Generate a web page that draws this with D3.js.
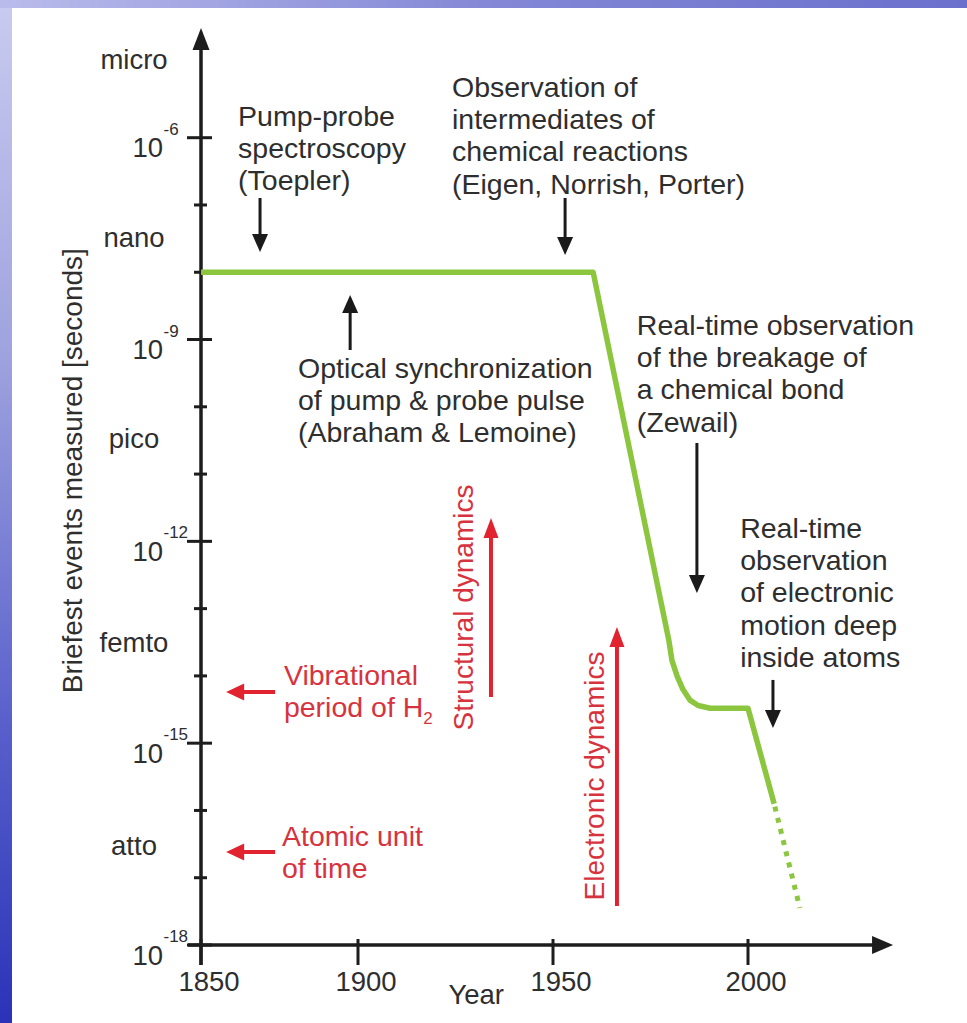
<!DOCTYPE html>
<html><head><meta charset="utf-8">
<script src="https://cdn.jsdelivr.net/npm/d3@7"></script>
<style>
body{margin:0;background:#fff}
svg{display:block}
text{font-family:"Liberation Sans",Arial,Helvetica,sans-serif}
</style>
</head><body>
<svg id="c" width="967" height="1023"></svg>
<script>
// ---------------- data ----------------
const yearTicks = [1850, 1900, 1950, 2000];
const expTicks = [-6, -7, -8, -9, -10, -11, -12, -13, -14, -15, -16, -17, -18];
const majorExps = [-6, -9, -12, -15, -18];
const prefixLabels = ["micro", "nano", "pico", "femto", "atto"];
const prefixExps = [-4.87, -7.52, -10.51, -13.54, -16.56];

// briefest events measured (solid part): year, log10(seconds)
const lineYears = [1850, 1960.3, 1979.7, 1980.5, 1981.8, 1983.3, 1985.1, 1987.2, 1990.3, 2000, 2006.7];
const lineExps  = [-8,   -8,     -13.47, -13.77, -14.00, -14.20, -14.36, -14.44, -14.48, -14.48, -15.90];
// projected (dotted) part
const dotYears = [2006.7, 2013.3];
const dotExps  = [-15.90, -17.45];

// annotations (anchors in data coordinates: year, log10 seconds)
const noteTexts = [
  ["Pump-probe", "spectroscopy", "(Toepler)"],
  ["Observation of", "intermediates of", "chemical reactions", "(Eigen, Norrish, Porter)"],
  ["Optical synchronization", "of pump & probe pulse", "(Abraham & Lemoine)"],
  ["Real-time observation", "of the breakage of", "a chemical bond", "(Zewail)"],
  ["Real-time", "observation", "of electronic", "motion deep", "inside atoms"]
];
const noteYears = [1861.8, 1924.1, 1880.9, 1971.5, 1998.0];
const noteExps  = [-5.826, -5.395, -9.572, -8.933, -11.950];
// black arrows: year, from exp, to exp (tip)
const arrowYears = [1868.8, 1953.1, 1897.5, 1986.9, 2006.4];
const arrowFrom  = [-6.896, -6.896, -9.156, -10.538, -14.06];
const arrowTo    = [-7.699, -7.744, -8.338, -12.768, -14.773];

// red side notes
const redNoteYears = [1876.4, 1875.8];
const redNoteExps  = [-14.135, -16.528];
const redArrowFromYears = [1873.6, 1873.6];
const redArrowToYears   = [1858.0, 1858.0];
const redArrowExps      = [-14.239, -16.617];

// red vertical labels / arrows
const dynLabels = ["Structural dynamics", "Electronic dynamics"];
const dynTextYears = [1929.4, 1963.2];
const dynTextExps  = [-12.983, -15.488];
const dynArrowYears = [1934.1, 1966.4];
const dynArrowFrom  = [-14.314, -17.42];
const dynArrowTo    = [-11.653, -13.273];

// ---------------- setup ----------------
const W = 967, H = 1023;
const svg = d3.select("#c");
const defs = svg.append("defs");
const gl = defs.append("linearGradient").attr("id","gLeft").attr("x1",0).attr("y1",0).attr("x2",0).attr("y2",1);
gl.append("stop").attr("offset","0%").attr("stop-color","#c9cbef");
gl.append("stop").attr("offset","35%").attr("stop-color","#9ea2de");
gl.append("stop").attr("offset","70%").attr("stop-color","#5a61cc");
gl.append("stop").attr("offset","100%").attr("stop-color","#2a33b8");
const gt = defs.append("linearGradient").attr("id","gTop").attr("x1",0).attr("y1",0).attr("x2",1).attr("y2",0);
gt.append("stop").attr("offset","0%").attr("stop-color","#b9bceb");
gt.append("stop").attr("offset","50%").attr("stop-color","#8488d6");
gt.append("stop").attr("offset","100%").attr("stop-color","#6a70cc");

svg.append("rect").attr("width",W).attr("height",H).attr("fill","url(#gLeft)");
svg.append("rect").attr("width",W).attr("height",8).attr("fill","url(#gTop)");
svg.append("rect").attr("x",12).attr("y",8).attr("width",W-12).attr("height",H-8).attr("fill","#ffffff");

// scales (the original figure's time axis is not evenly spaced)
const x = d3.scaleLinear().domain(yearTicks).range([201, 358, 553, 748]);
const y = d3.scaleLog().domain([1e-18, 1e-6]).range([945, 137.7]);
const Y = e => y(Math.pow(10, e));

const AX = "#1d1d1d", TXT = "#2e2e2e", RED = "#e0232f", REDT = "#d7333e", GREEN = "#8cc63e";
const FS = 28.5, FSR = 28;

function arrow(g, x1, y1, x2, y2, color, sw, hl, hw) {
  const a = Math.atan2(y2 - y1, x2 - x1);
  const bx = x2 - Math.cos(a) * hl, by = y2 - Math.sin(a) * hl;
  g.append("line").attr("x1",x1).attr("y1",y1).attr("x2",bx + Math.cos(a)*1).attr("y2",by + Math.sin(a)*1)
    .attr("stroke",color).attr("stroke-width",sw);
  const px = -Math.sin(a), py = Math.cos(a);
  g.append("path").attr("d", `M${x2},${y2}L${bx + px*hw},${by + py*hw}L${bx - px*hw},${by - py*hw}Z`).attr("fill",color);
}

const g = svg.append("g");

// ---------------- axes ----------------
const x0 = x(1850), yBase = Y(-18);
const yTop = Y(-4.369), xEnd = x(2037.2);
arrow(g, x0, 965, x0, yTop, AX, 3.5, 22, 8.5);
arrow(g, x0 - 13, yBase, xEnd, yBase, AX, 3.5, 21, 9);

// y ticks
g.selectAll(".yt").data(expTicks).join("line")
  .attr("x1", d => majorExps.includes(d) ? x0 - 14 : x0 - 7)
  .attr("x2", d => majorExps.includes(d) ? x0 + 11 : x0 + 6)
  .attr("y1", d => Y(d)).attr("y2", d => Y(d))
  .attr("stroke", AX).attr("stroke-width", 3);

// y major labels 10^n
const yl = g.selectAll(".yl").data(majorExps).join("g");
yl.append("text").attr("x", x0 - 38).attr("y", d => Y(d) + 19.5)
  .attr("text-anchor","end").attr("font-size",27.5).attr("fill",TXT).text("10");
yl.append("text").attr("x", x0 - 37.5).attr("y", d => Y(d) - 3)
  .attr("font-size",17).attr("fill",TXT).text(d => String(d));

// prefix labels
g.selectAll(".pl").data(prefixLabels).join("text")
  .attr("x", x0 - 67).attr("y", (d,i) => Y(prefixExps[i]) + 7)
  .attr("text-anchor","middle").attr("font-size",27.5).attr("fill",TXT).text(d => d);

// x ticks
g.selectAll(".xt").data(yearTicks).join("line")
  .attr("x1", d => x(d)).attr("x2", d => x(d))
  .attr("y1", yBase - 6).attr("y2", yBase + 20)
  .attr("stroke", AX).attr("stroke-width", 3);
g.selectAll(".xl").data(yearTicks).join("text")
  .attr("x", d => x(d) + 8).attr("y", yBase + 46)
  .attr("text-anchor","middle").attr("font-size",27.5).attr("fill",TXT).text(d => d);

// axis titles
g.append("text").attr("x", x(1930.3)).attr("y", yBase + 59)
  .attr("text-anchor","middle").attr("font-size",27.5).attr("fill",TXT).text("Year");
g.append("text").attr("transform", `translate(${x0 - 119},${Y(-10.95)}) rotate(-90)`)
  .attr("text-anchor","middle").attr("font-size",FSR).attr("fill",TXT)
  .text("Briefest events measured [seconds]");

// ---------------- data line ----------------
const line = d3.line().x(d => x(d[0])).y(d => Y(d[1]));
g.append("path").datum(d3.zip(lineYears, lineExps)).attr("d", line)
  .attr("fill","none").attr("stroke",GREEN).attr("stroke-width",5.5)
  .attr("stroke-linejoin","round");
g.append("path").datum(d3.zip(dotYears, dotExps)).attr("d", line)
  .attr("fill","none").attr("stroke",GREEN).attr("stroke-width",5)
  .attr("stroke-dasharray","5 6.5").attr("stroke-dashoffset",-3);

// ---------------- annotations ----------------
noteTexts.forEach((lines, i) => {
  const t = g.append("text").attr("font-size",FS).attr("fill",TXT);
  lines.forEach((s, j) => {
    t.append("tspan").attr("x", x(noteYears[i])).attr("y", Y(noteExps[i]) + j * 32.2).text(s);
  });
});
arrowYears.forEach((yr, i) => {
  arrow(g, x(yr), Y(arrowFrom[i]), x(yr), Y(arrowTo[i]), "#1a1a1a", 3, 18, 8);
});

// red side notes
const r1 = g.append("text").attr("font-size",FS).attr("fill",REDT);
r1.append("tspan").attr("x", x(redNoteYears[0])).attr("y", Y(redNoteExps[0])).text("Vibrational");
r1.append("tspan").attr("x", x(redNoteYears[0])).attr("y", Y(redNoteExps[0]) + 32.2).text("period of H");
r1.append("tspan").attr("dy", 7).attr("font-size",17).text("2");
const r2 = g.append("text").attr("font-size",FS).attr("fill",REDT);
r2.append("tspan").attr("x", x(redNoteYears[1])).attr("y", Y(redNoteExps[1])).text("Atomic unit");
r2.append("tspan").attr("x", x(redNoteYears[1])).attr("y", Y(redNoteExps[1]) + 32.2).text("of time");
redArrowExps.forEach((e, i) => {
  arrow(g, x(redArrowFromYears[i]), Y(e), x(redArrowToYears[i]), Y(e), RED, 4, 18, 8.5);
});

// red vertical labels and arrows
dynLabels.forEach((s, i) => {
  g.append("text").attr("transform", `translate(${x(dynTextYears[i])},${Y(dynTextExps[i])}) rotate(-90)`)
    .attr("text-anchor","middle").attr("font-size",FSR).attr("fill",REDT).text(s);
  arrow(g, x(dynArrowYears[i]), Y(dynArrowFrom[i]), x(dynArrowYears[i]), Y(dynArrowTo[i]), RED, 4, 20, 7.5);
});
</script>
</body></html>
